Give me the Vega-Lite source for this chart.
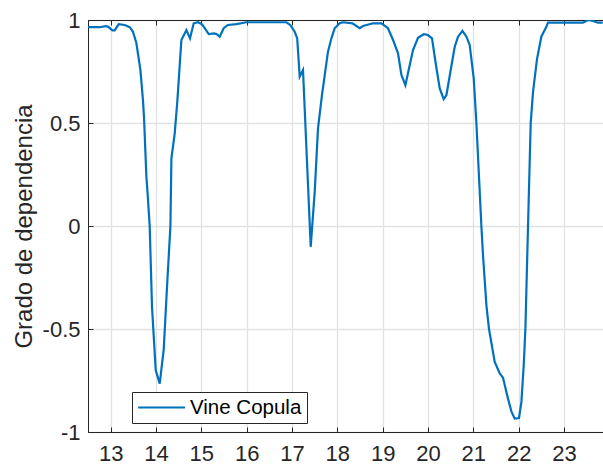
{
  "$schema": "https://vega.github.io/schema/vega-lite/v6.json",
  "width": 516,
  "height": 412,
  "autosize": {"type": "none"},
  "padding": {"left": 88, "top": 20, "right": 0, "bottom": 32},
  "background": "white",
  "config": {
    "view": {"stroke": "#262626", "strokeWidth": 1},
    "font": "Liberation Sans",
    "axis": {
      "labelFont": "Liberation Sans",
      "titleFont": "Liberation Sans",
      "labelColor": "#262626",
      "titleColor": "#262626",
      "domainColor": "#262626",
      "tickColor": "#262626",
      "gridColor": "#e2e2e2",
      "gridWidth": 1.3
    },
    "legend": {"labelFontSize": 20.5, "labelFont": "Liberation Sans"}
  },
  "data": {
    "values": [
      {"t": 12.5, "v": 0.965},
      {"t": 12.758, "v": 0.965},
      {"t": 12.89, "v": 0.97},
      {"t": 12.941, "v": 0.968},
      {"t": 13.038, "v": 0.95},
      {"t": 13.089, "v": 0.95},
      {"t": 13.177, "v": 0.98},
      {"t": 13.31, "v": 0.976},
      {"t": 13.42, "v": 0.965},
      {"t": 13.493, "v": 0.943},
      {"t": 13.568, "v": 0.887},
      {"t": 13.656, "v": 0.757},
      {"t": 13.713, "v": 0.61},
      {"t": 13.735, "v": 0.53},
      {"t": 13.788, "v": 0.24},
      {"t": 13.817, "v": 0.15},
      {"t": 13.861, "v": 0.0},
      {"t": 13.912, "v": -0.393},
      {"t": 13.994, "v": -0.7},
      {"t": 14.082, "v": -0.765},
      {"t": 14.17, "v": -0.6},
      {"t": 14.243, "v": -0.296},
      {"t": 14.318, "v": 0.0},
      {"t": 14.34, "v": 0.328},
      {"t": 14.413, "v": 0.45},
      {"t": 14.472, "v": 0.61},
      {"t": 14.56, "v": 0.903},
      {"t": 14.671, "v": 0.951},
      {"t": 14.75, "v": 0.911},
      {"t": 14.832, "v": 0.984},
      {"t": 14.927, "v": 0.989},
      {"t": 15.015, "v": 0.979},
      {"t": 15.09, "v": 0.956},
      {"t": 15.163, "v": 0.932},
      {"t": 15.28, "v": 0.935},
      {"t": 15.333, "v": 0.932},
      {"t": 15.405, "v": 0.919},
      {"t": 15.494, "v": 0.96},
      {"t": 15.588, "v": 0.976},
      {"t": 15.774, "v": 0.98},
      {"t": 15.994, "v": 0.989},
      {"t": 16.877, "v": 0.989},
      {"t": 16.96, "v": 0.976},
      {"t": 17.06, "v": 0.943},
      {"t": 17.115, "v": 0.911},
      {"t": 17.17, "v": 0.725},
      {"t": 17.243, "v": 0.757},
      {"t": 17.413, "v": -0.101},
      {"t": 17.501, "v": 0.166},
      {"t": 17.574, "v": 0.474},
      {"t": 17.662, "v": 0.636},
      {"t": 17.794, "v": 0.846},
      {"t": 17.87, "v": 0.911},
      {"t": 17.942, "v": 0.96},
      {"t": 18.052, "v": 0.984},
      {"t": 18.125, "v": 0.989},
      {"t": 18.333, "v": 0.984},
      {"t": 18.494, "v": 0.96},
      {"t": 18.567, "v": 0.971},
      {"t": 18.787, "v": 0.984},
      {"t": 18.973, "v": 0.984},
      {"t": 19.118, "v": 0.96},
      {"t": 19.229, "v": 0.903},
      {"t": 19.339, "v": 0.838},
      {"t": 19.414, "v": 0.733},
      {"t": 19.502, "v": 0.684},
      {"t": 19.581, "v": 0.765},
      {"t": 19.67, "v": 0.854},
      {"t": 19.78, "v": 0.914},
      {"t": 19.906, "v": 0.931},
      {"t": 20.0, "v": 0.927},
      {"t": 20.089, "v": 0.911},
      {"t": 20.17, "v": 0.79},
      {"t": 20.259, "v": 0.668},
      {"t": 20.347, "v": 0.616},
      {"t": 20.407, "v": 0.636},
      {"t": 20.495, "v": 0.749},
      {"t": 20.59, "v": 0.87},
      {"t": 20.663, "v": 0.919},
      {"t": 20.76, "v": 0.947},
      {"t": 20.848, "v": 0.919},
      {"t": 20.92, "v": 0.879},
      {"t": 21.009, "v": 0.717},
      {"t": 21.068, "v": 0.5},
      {"t": 21.178, "v": 0.0},
      {"t": 21.214, "v": -0.142},
      {"t": 21.289, "v": -0.385},
      {"t": 21.346, "v": -0.5},
      {"t": 21.472, "v": -0.66},
      {"t": 21.582, "v": -0.715},
      {"t": 21.655, "v": -0.737},
      {"t": 21.765, "v": -0.838},
      {"t": 21.84, "v": -0.9},
      {"t": 21.913, "v": -0.935},
      {"t": 22.008, "v": -0.932},
      {"t": 22.061, "v": -0.854},
      {"t": 22.112, "v": -0.676},
      {"t": 22.149, "v": -0.5},
      {"t": 22.207, "v": 0.0},
      {"t": 22.266, "v": 0.5},
      {"t": 22.317, "v": 0.65},
      {"t": 22.405, "v": 0.81},
      {"t": 22.502, "v": 0.92},
      {"t": 22.612, "v": 0.967},
      {"t": 22.648, "v": 0.987},
      {"t": 23.42, "v": 0.987},
      {"t": 23.53, "v": 1.0},
      {"t": 23.64, "v": 0.995},
      {"t": 23.75, "v": 0.987},
      {"t": 23.855, "v": 0.987}
    ]
  },
  "layer": [
    {
      "mark": {"type": "line", "strokeWidth": 2.2, "clip": true},
      "encoding": {
        "x": {
          "field": "t", "type": "quantitative",
          "scale": {"domain": [12.5, 23.883], "nice": false, "zero": false},
          "axis": {
            "orient": "bottom", "title": null,
            "values": [13, 14, 15, 16, 17, 18, 19, 20, 21, 22, 23],
            "labelFontSize": 22, "tickSize": -5, "labelPadding": 16,
            "grid": true, "domainWidth": 1
          }
        },
        "y": {
          "field": "v", "type": "quantitative",
          "scale": {"domain": [-1, 1], "nice": false},
          "axis": {
            "title": "Grado de dependencia",
            "titleFontSize": 24, "titleFontWeight": "normal",
            "titleX": -57, "titleY": 206, "titleAngle": -90,
            "titleBaseline": "alphabetic", "titleAlign": "center",
            "values": [-1, -0.5, 0, 0.5, 1],
            "labelExpr": "datum.value + ''",
            "labelFontSize": 22, "tickSize": -5, "labelPadding": 13,
            "grid": true
          }
        },
        "color": {
          "datum": "Vine Copula",
          "scale": {"range": ["#0072BD"]},
          "legend": {
            "orient": "none", "legendX": 44, "legendY": 372,
            "title": null, "symbolType": "M-1,0H4", "symbolStrokeWidth": 2.2,
            "symbolSize": 353, "labelFontSize": 20.5, "labelFont": "Liberation Sans",
            "labelColor": "#000000", "labelOffset": 32, "labelLimit": 300,
            "strokeColor": "#262626", "fillColor": "white", "padding": 5
          }
        }
      }
    },
    {
      "mark": {"type": "rule", "opacity": 0},
      "encoding": {
        "x": {
          "field": "t", "type": "quantitative", "aggregate": "min",
          "scale": {"domain": [12.5, 23.883], "nice": false, "zero": false},
          "axis": {
            "orient": "top", "title": null, "labels": false, "grid": false,
            "values": [13, 14, 15, 16, 17, 18, 19, 20, 21, 22, 23],
            "tickSize": -5
          }
        }
      }
    }
  ],
  "resolve": {"axis": {"x": "independent"}}
}
